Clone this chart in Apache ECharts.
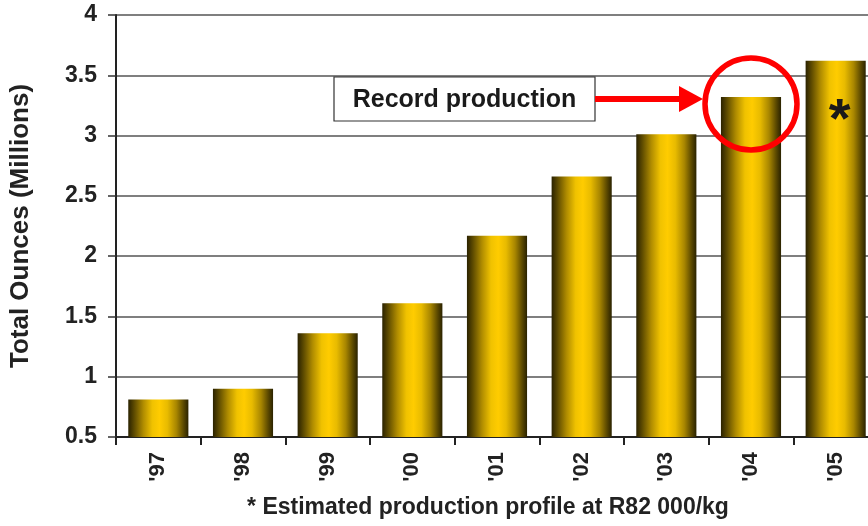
<!DOCTYPE html>
<html>
<head>
<meta charset="utf-8">
<script src="https://cdn.jsdelivr.net/npm/echarts@6/dist/echarts.min.js"></script>
<style>
  html, body { margin: 0; padding: 0; background: #fff; }
  #chart { width: 868px; height: 526px; }
</style>
</head>
<body>
<div id="chart"></div>
<script>
// Annual production, millions of ounces
const years = ["'97", "'98", "'99", "'00", "'01", "'02", "'03", "'04", "'05"];
const ounces = [0.81, 0.90, 1.36, 1.61, 2.17, 2.66, 3.01, 3.32, 3.62];
const yTicks = [0.5, 1, 1.5, 2, 2.5, 3, 3.5, 4];
const recordYear = "'04";
const estimatedYear = "'05";

const FONT = '"Liberation Sans", Arial, Helvetica, sans-serif';

const barFill = new echarts.graphic.LinearGradient(0, 0, 1, 0, [
  { offset: 0.00, color: '#2a2200' },
  { offset: 0.10, color: '#5e4b00' },
  { offset: 0.25, color: '#b08c00' },
  { offset: 0.40, color: '#f0c200' },
  { offset: 0.52, color: '#ffcc00' },
  { offset: 0.65, color: '#e8bb00' },
  { offset: 0.80, color: '#a88600' },
  { offset: 0.92, color: '#5a4800' },
  { offset: 1.00, color: '#2a2200' }
]);

const footnote = {
  type: 'text',
  x: 488,
  y: 508,
  style: { text: '* Estimated production profile at R82 000/kg', font: 'bold 23px ' + FONT, fill: '#222',
    align: 'center', verticalAlign: 'middle' }
};

const chart = echarts.init(document.getElementById('chart'), null, { renderer: 'canvas' });

chart.setOption({
  animation: false,
  backgroundColor: '#ffffff',
  grid: { left: 116, top: 15, bottom: 89, width: 762, containLabel: false, outerBoundsMode: 'none' },
  xAxis: {
    type: 'category',
    data: years,
    boundaryGap: true,
    axisLine: { show: true, lineStyle: { color: '#222', width: 2 } },
    axisTick: { show: true, length: 8, inside: false, alignWithLabel: false, lineStyle: { color: '#222', width: 2 } },
    axisLabel: { rotate: 90, margin: 15, fontFamily: FONT, fontWeight: 'bold', fontSize: 22, color: '#222' },
    splitLine: { show: false }
  },
  yAxis: {
    type: 'value',
    min: yTicks[0],
    max: yTicks[yTicks.length - 1],
    interval: 0.5,
    name: 'Total Ounces (Millions)',
    nameLocation: 'middle',
    nameGap: 82,
    nameRotate: 90,
    nameTextStyle: { fontFamily: FONT, fontWeight: 'bold', fontSize: 26, color: '#222' },
    axisLine: { show: true, lineStyle: { color: '#222', width: 2 } },
    axisTick: { show: true, length: 8, lineStyle: { color: '#333', width: 1.5 } },
    axisLabel: { margin: 19, fontFamily: FONT, fontWeight: 'bold', fontSize: 23, color: '#222',
      formatter: v => String(v) },
    splitLine: { show: true, lineStyle: { color: '#555', width: 1.5 } }
  },
  series: [{
    type: 'bar',
    data: ounces.map((v, i) => ({
      value: v,
      label: years[i] === estimatedYear ? {
        show: true, position: 'insideTop', distance: 33, formatter: '*',
        fontFamily: FONT, fontWeight: 'bold', fontSize: 56, color: '#1a1a1a', offset: [4, 0]
      } : { show: false }
    })),
    barWidth: '71%',
    itemStyle: { color: barFill }
  }],
  graphic: [footnote]
});

// Callout: boxed note, arrow and ring around the record year's bar
const recIdx = years.indexOf(recordYear);
const barTop = chart.convertToPixel({ seriesIndex: 0 }, [recIdx, ounces[recIdx]]);
const cx = barTop[0], cy = barTop[1] + 7;
const ringR = 46;
const tipX = cx - ringR - 2;
const arrowY = cy - 5;
const boxRight = tipX - 108, boxLeft = boxRight - 261;

chart.setOption({
  graphic: [footnote, {
    type: 'rect',
    shape: { x: boxLeft, y: arrowY - 22, width: boxRight - boxLeft, height: 44 },
    style: { fill: '#fff', stroke: '#333', lineWidth: 1.2 },
    z: 10
  }, {
    type: 'text',
    x: (boxLeft + boxRight) / 2,
    y: arrowY + 1,
    style: { text: 'Record production', font: 'bold 25px ' + FONT, fill: '#1a1a1a', align: 'center', verticalAlign: 'middle' },
    z: 11
  }, {
    type: 'line',
    shape: { x1: boxRight, y1: arrowY, x2: tipX - 20, y2: arrowY },
    style: { stroke: '#ff0000', lineWidth: 6 },
    z: 10
  }, {
    type: 'polygon',
    shape: { points: [[tipX - 24, arrowY - 13], [tipX, arrowY], [tipX - 24, arrowY + 13]] },
    style: { fill: '#ff0000' },
    z: 10
  }, {
    type: 'circle',
    shape: { cx: cx, cy: cy, r: ringR },
    style: { fill: 'none', stroke: '#ff0000', lineWidth: 5.5 },
    z: 10
  }]
});
</script>
</body>
</html>
